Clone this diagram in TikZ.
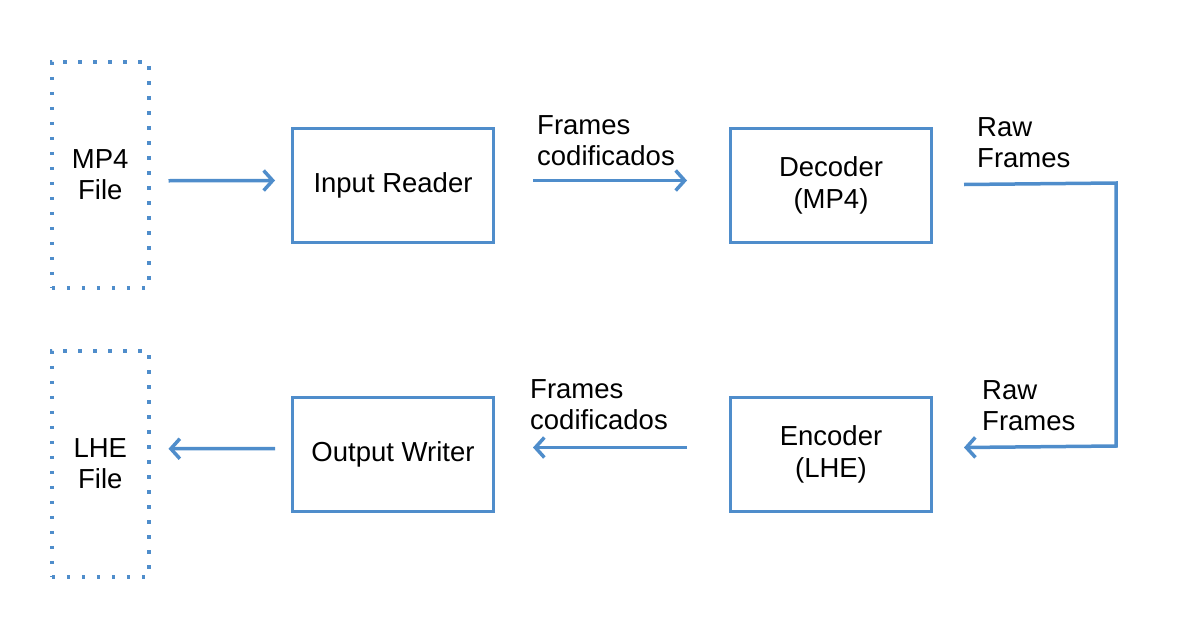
\documentclass[tikz,border=0pt]{standalone}
\usepackage{fontspec}
\setmainfont{Liberation Sans}
\usetikzlibrary{arrows.meta}
\definecolor{lineblue}{RGB}{79,141,203}
\begin{document}
\begin{tikzpicture}[x=1pt,y=-1pt,
  font=\fontsize{27.5}{31.5}\selectfont,
  blockbox/.style={draw=lineblue,line width=3pt,minimum width=201pt,minimum height=114pt,anchor=north west,inner sep=0pt,align=center},
  filebox/.style={draw=lineblue,line width=3.5pt,dash pattern=on 3.5pt off 11.5pt,minimum width=97pt,minimum height=226pt,anchor=north west,inner sep=0pt,align=center},
  flow/.style={draw=lineblue,line width=3.5pt,-{Straight Barb[length=9pt,width=20pt,line width=3.5pt]}},
  lbl/.style={anchor=north west,inner sep=0pt,align=left}]
\useasboundingbox (0,0) rectangle (1181,624);
\node[filebox] (mp4) at (50,60) {MP4\\File};
\node[filebox] (lhe) at (50,349) {LHE\\File};
\node[blockbox] (inp) at (291,127) {Input Reader};
\node[blockbox] (dec) at (729,127) {Decoder\\(MP4)};
\node[blockbox] (out) at (291,396) {Output Writer};
\node[blockbox] (enc) at (729,396) {Encoder\\(LHE)};
\coordinate (c1) at (1116,183);
\coordinate (c2) at (1116,446);
\draw[flow] ([xshift=18pt,yshift=-6pt]mp4.east) -- ([xshift=-16pt,yshift=5pt]inp.west);
\draw[flow] ([xshift=38pt,yshift=5pt]inp.east) -- ([xshift=-42pt,yshift=5pt]dec.west);
\draw[flow] ([xshift=31pt,yshift=1pt]dec.east) -- (c1) -- (c2) -- ([xshift=31pt,yshift=7pt]enc.east);
\draw[flow] ([xshift=-42pt,yshift=7pt]enc.west) -- ([xshift=38pt,yshift=7pt]out.east);
\draw[flow] ([xshift=-16pt,yshift=6pt]out.west) -- ([xshift=18pt,yshift=15pt]lhe.east);
\node[lbl] (l1) at (537,115) {Frames\\codificados};
\node[lbl] (l2) at (977,117) {Raw\\Frames};
\node[lbl] (l3) at (530,379) {Frames\\codificados};
\node[lbl] (l4) at (982,380) {Raw\\Frames};
\end{tikzpicture}
\end{document}
